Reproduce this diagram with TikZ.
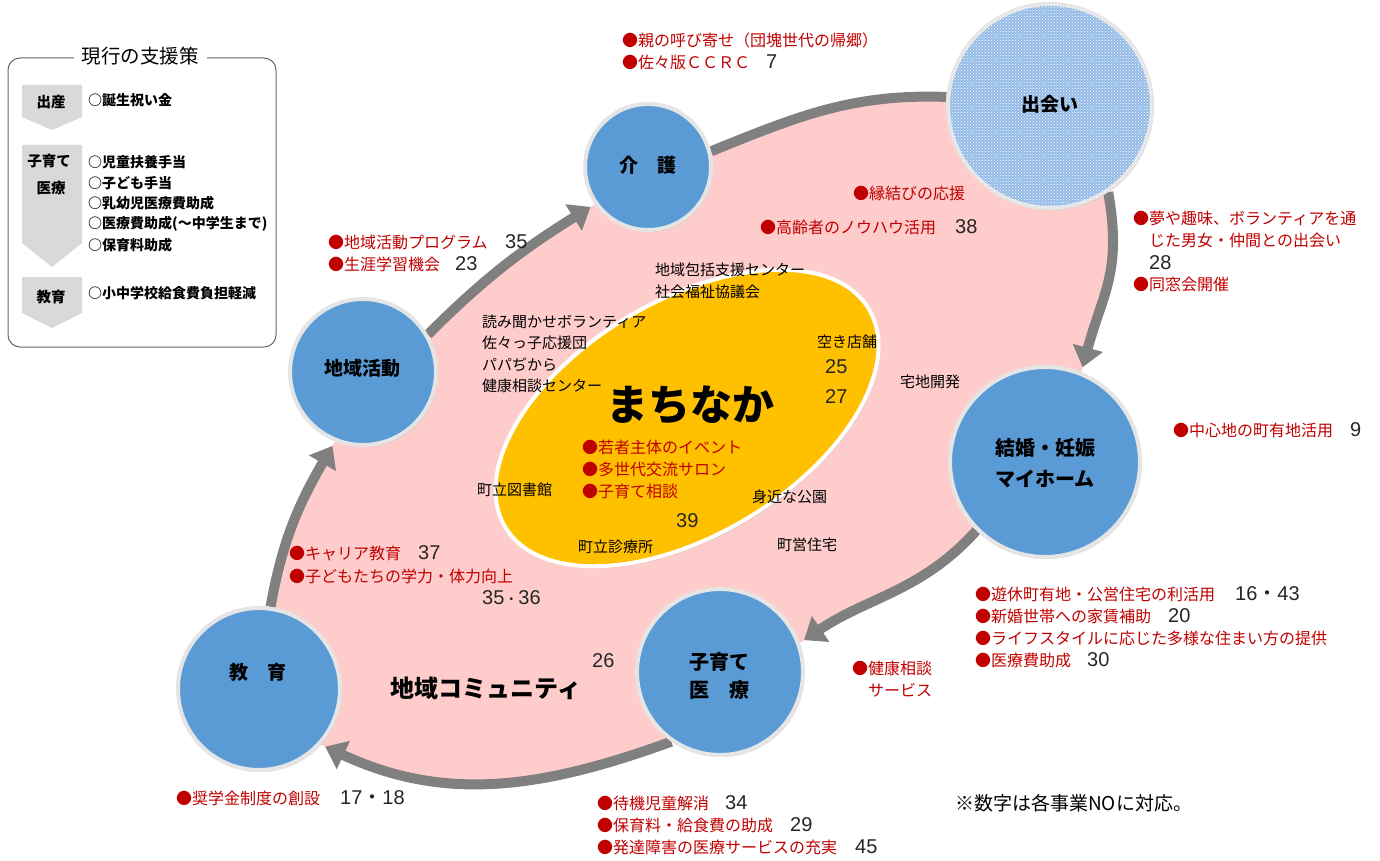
\documentclass[tikz,border=0pt]{standalone}
\usepackage{fontspec}
\setmainfont{Noto Sans CJK JP}
\newfontfamily\numfont{Liberation Sans}
\usetikzlibrary{arrows.meta,shapes.geometric,patterns,shadows}
\pgfdeclarelayer{bg}
\pgfsetlayers{bg,main}
\definecolor{myred}{HTML}{C00000}
\definecolor{myblue}{HTML}{5B9BD5}
\definecolor{mypink}{HTML}{FFCCCC}
\definecolor{mygold}{HTML}{FFC000}
\definecolor{myband}{HTML}{808080}
\definecolor{chev}{HTML}{D9D9D9}
\definecolor{dotblue}{HTML}{94BBE6}
\tikzset{
 circ/.style={circle, draw=white!90!black, line width=4pt, inner sep=0pt,
   drop shadow={shadow xshift=1.5pt, shadow yshift=-2pt, opacity=0.3}},
 band/.style={draw=myband, line width=10pt},
 bandtip/.style={band, -{Triangle[width=30pt,length=20pt]}, shorten >=5pt},
 red/.style={anchor=west, text=myred, font=\fontsize{16}{18}\selectfont, inner sep=0pt},
 blk/.style={anchor=west, text=black, font=\fontsize{15}{18}\selectfont, inner sep=0pt},
 num/.style={anchor=west, text=black!85, font=\numfont\fontsize{20}{22}\selectfont, inner sep=0pt},
 boxitem/.style={anchor=west, font=\bfseries\fontsize{14}{16}\selectfont, inner sep=0pt},
 chevlabel/.style={font=\bfseries\fontsize{14.5}{16}\selectfont, inner sep=0pt},
 clabel/.style={font=\bfseries\fontsize{19}{29}\selectfont, align=center, inner sep=0pt},
}
\begin{document}
\begin{tikzpicture}[x=1pt,y=-1pt]
\useasboundingbox (0,0) rectangle (1380,861);

% ---- circles ----
\node[circ, fill=myblue, minimum size=126pt] (kaigo) at (648,167) {};
\node[circ, fill=dotblue, postaction={pattern=crosshatch dots, pattern color=white}, minimum size=204pt] (deai) at (1050,106) {};
\node[circ, fill=myblue, minimum size=146pt] (chiki) at (363,372) {};
\node[circ, fill=myblue, minimum size=190pt] (kekkon) at (1045,462) {};
\node[circ, fill=myblue, minimum size=166pt] (kosodate) at (720,672) {};
\node[circ, fill=myblue, minimum size=162pt] (edu) at (259,689) {};

\node[clabel] (kaigoT) at (648,165) {介　護};
\node[clabel] (deaiT) at (1050,104) {出会い};
\node[clabel] (chikiT) at (362,368) {地域活動};
\node[clabel, font=\bfseries\fontsize{20}{31}\selectfont] (kekkonT) at (1045,463) {結婚・妊娠\\マイホーム};
\node[clabel, font=\bfseries\fontsize{20}{28}\selectfont] (kosodateT) at (719,676) {子育て\\医　療};
\node[clabel] (eduT) at (258,672) {教　育};

% ---- background: pink area and bands ----
\begin{pgfonlayer}{bg}
\fill[mypink] (edu.82) to[out=80,in=240] (chiki.248) -- (chiki.30)
  to[out=45,in=212] (kaigo.215) -- (kaigo.14)
  to[out=22,in=178] (deai.175) -- (deai.-56)
  to[out=-80,in=75,looseness=1.15] (kekkon.68) -- (kekkon.225)
  to[out=228,in=34] (kosodate.20) -- (kosodate.235)
  to[out=200,in=-25] (edu.-42) -- cycle;
\draw[bandtip] (edu.82) to[out=80,in=240] (chiki.248);
\draw[bandtip] (chiki.30) to[out=45,in=212] (kaigo.215);
\draw[band] (kaigo.14) to[out=22,in=178] (deai.175);
\draw[bandtip] (deai.-56) to[out=-80,in=75,looseness=1.15] (kekkon.68);
\draw[bandtip] (kekkon.225) to[out=228,in=34] (kosodate.20);
\draw[bandtip] (kosodate.235) to[out=200,in=-25] (edu.-42);
\end{pgfonlayer}

% ---- machinaka ellipse ----
\node[ellipse, minimum width=424pt, minimum height=234pt, rotate=31, fill=mygold, draw=white, line width=4pt,
  drop shadow={shadow xshift=1.5pt, shadow yshift=-2pt, opacity=0.3}] (machi) at (687,418) {};
\node[font=\bfseries\fontsize{42}{46}\selectfont, inner sep=0pt] (machiT) at (690,405) {まちなか};

% ---- left box ----
\draw[black!60, line width=1pt, rounded corners=12pt] (8,58) rectangle (276,347);
\node[fill=white, font=\fontsize{19.5}{22}\selectfont, inner xsep=8pt, inner ysep=2pt] (title) at (140,56) {現行の支援策};
\fill[chev] (22,85) -- (82,85) -- (82,117) -- (52,130) -- (22,117) -- cycle;
\fill[chev] (22,145) -- (82,145) -- (82,243) -- (52,267) -- (22,243) -- cycle;
\fill[chev] (22,277) -- (82,277) -- (82,313) -- (52,328) -- (22,313) -- cycle;
\node[chevlabel] (c1) at (51,102) {出産};
\node[chevlabel] (c2) at (49,161) {子育て};
\node[chevlabel] (c3) at (51,188) {医療};
\node[chevlabel] (c4) at (51,297) {教育};
\node[boxitem] (i1) at (88,100) {○誕生祝い金};
\node[boxitem] (i2) at (88,162) {○児童扶養手当};
\node[boxitem] (i3) at (88,183) {○子ども手当};
\node[boxitem] (i4) at (88,203) {○乳幼児医療費助成};
\node[boxitem] (i5) at (88,224) {○医療費助成(～中学生まで)};
\node[boxitem] (i6) at (88,245) {○保育料助成};
\node[boxitem] (i7) at (88,293) {○小中学校給食費負担軽減};

% ---- red / black labels ----
\node[red] (r1) at (622,40) {●親の呼び寄せ（団塊世代の帰郷）};
\node[red] (r2) at (622,62) {●佐々版ＣＣＲＣ};
\node[num] (n7) at (766,62) {7};
\node[red] (r3) at (853,193) {●縁結びの応援};
\node[red] (r4) at (760,227) {●高齢者のノウハウ活用};
\node[num] (n38) at (955,227) {38};
\node[red] (r5) at (1133,218) {●夢や趣味、ボランティアを通};
\node[red] (r6) at (1149,240) {じた男女・仲間との出会い};
\node[num] (n28) at (1149,263) {28};
\node[red] (r7) at (1133,284) {●同窓会開催};
\node[red] (r8) at (328,242) {●地域活動プログラム};
\node[num] (n35a) at (505,242) {35};
\node[red] (r9) at (328,264) {●生涯学習機会};
\node[num] (n23) at (455,264) {23};

\node[blk] (b1) at (655,270) {地域包括支援センター};
\node[blk] (b2) at (655,292) {社会福祉協議会};
\node[blk] (b3) at (482,322) {読み聞かせボランティア};
\node[blk] (b4) at (482,343) {佐々っ子応援団};
\node[blk] (b5) at (482,365) {パパぢから};
\node[blk] (b6) at (482,386) {健康相談センター};
\node[blk] (b7) at (817,342) {空き店舗};
\node[num] (n25) at (825,367) {25};
\node[num] (n27) at (825,397) {27};
\node[blk] (b8) at (900,382) {宅地開発};
\node[red] (r10) at (582,447) {●若者主体のイベント};
\node[red] (r11) at (582,469) {●多世代交流サロン};
\node[red] (r12) at (582,491) {●子育て相談};
\node[blk] (b9) at (477,490) {町立図書館};
\node[blk] (b10) at (752,497) {身近な公園};
\node[num] (n39) at (676,521) {39};
\node[blk] (b11) at (578,547) {町立診療所};
\node[blk] (b12) at (777,545) {町営住宅};

\node[red] (r13) at (1173,430) {●中心地の町有地活用};
\node[num] (n9) at (1350,430) {9};
\node[red] (r14) at (289,553) {●キャリア教育};
\node[num] (n37) at (418,553) {37};
\node[red] (r15) at (289,576) {●子どもたちの学力・体力向上};
\node[num] (n3536) at (482,598) {35{\rmfamily\fontsize{14}{16}\selectfont ・}36};
\node[font=\bfseries\fontsize{24}{28}\selectfont, inner sep=0pt] (comm) at (486,688) {地域コミュニティ};
\node[num] (n26) at (592,661) {26};

\node[red] (r16) at (975,594) {●遊休町有地・公営住宅の利活用};
\node[num] (n1643) at (1235,594) {16{\rmfamily ・}43};
\node[red] (r17) at (975,616) {●新婚世帯への家賃補助};
\node[num] (n20) at (1168,616) {20};
\node[red] (r18) at (975,638) {●ライフスタイルに応じた多様な住まい方の提供};
\node[red] (r19) at (975,660) {●医療費助成};
\node[num] (n30) at (1087,660) {30};
\node[red] (r20) at (852,668) {●健康相談};
\node[red] (r21) at (868,690) {サービス};

\node[red] (r22) at (176,798) {●奨学金制度の創設};
\node[num] (n1718) at (340,798) {17{\rmfamily ・}18};
\node[red] (r23) at (597,803) {●待機児童解消};
\node[num] (n34) at (725,803) {34};
\node[red] (r24) at (597,825) {●保育料・給食費の助成};
\node[num] (n29) at (790,825) {29};
\node[red] (r25) at (597,847) {●発達障害の医療サービスの充実};
\node[num] (n45) at (855,847) {45};
\node[anchor=west, font=\fontsize{19}{22}\selectfont, inner sep=0pt] (note) at (955,803) {※数字は各事業NOに対応。};
\end{tikzpicture}
\end{document}
